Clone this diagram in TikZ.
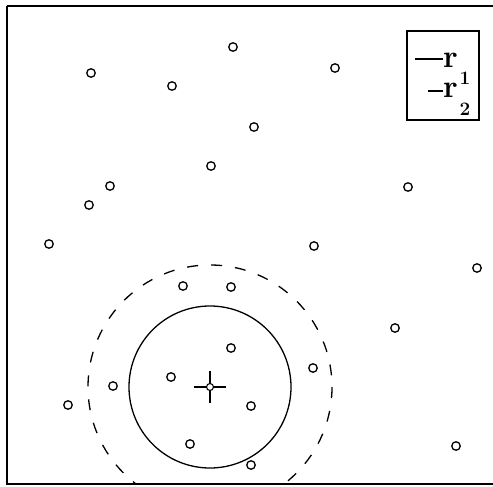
\documentclass[tikz,border=0pt]{standalone}
\begin{document}
\begin{tikzpicture}[x=1pt,y=-1pt,
  pt/.style={circle,draw,line width=1.3pt,minimum size=8.5pt,inner sep=0pt},
  frame/.style={line width=1.6pt},
  solidring/.style={line width=1.3pt},
  dashring/.style={line width=1.3pt,dash pattern=on 11pt off 13pt},
  legendtext/.style={inner sep=0pt,font=\fontsize{32}{32}\selectfont\bfseries},
  legendidx/.style={inner sep=0pt,font=\fontsize{19}{19}\selectfont\bfseries}]
\useasboundingbox (0,0) rectangle (493,487);
\draw[frame] (7,6) -- (500,6);
\draw[frame] (7,6) -- (7,484) -- (500,484);
% points
\foreach \x/\y [count=\i] in {233/47,91/73,172/86,335/68,254/127,211/166,110/186,89/205,408/187,49/244,314/246,477/268,183/286,231/287,395/328,231/348,113/386,171/377,313/368,68/405,251/406,190/444,251/465,456/446}
  \node[pt] (p\i) at (\x,\y) {};
% centre marker
\node[circle,draw,line width=1.1pt,minimum size=7pt,inner sep=0pt] (c) at (210,387) {};
\draw[line width=1.3pt] (c.north) -- ++(0,-12) (c.south) -- ++(0,12)
  (c.west) -- ++(-12,0) (c.east) -- ++(12,0);
% rings
\draw[solidring] (c) circle[radius=81];
\begin{scope}
\clip (8,7) rectangle (492,482);
\draw[dashring] (c) circle[radius=122];
\end{scope}
% legend
\draw[line width=1.8pt] (407,31) rectangle (479,120);
\node[legendtext,anchor=base west] (r1) at (443,67) {r};
\draw[line width=1.6pt] (415,59) -- (443,59);
\node[legendtext,anchor=base west] (r2) at (443,98) {r};
\draw[line width=1.6pt] (428,91) -- (443,91);
\node[legendidx] (s1) at (465,78) {1};
\node[legendidx] (s2) at (465,109) {2};
\end{tikzpicture}
\end{document}
